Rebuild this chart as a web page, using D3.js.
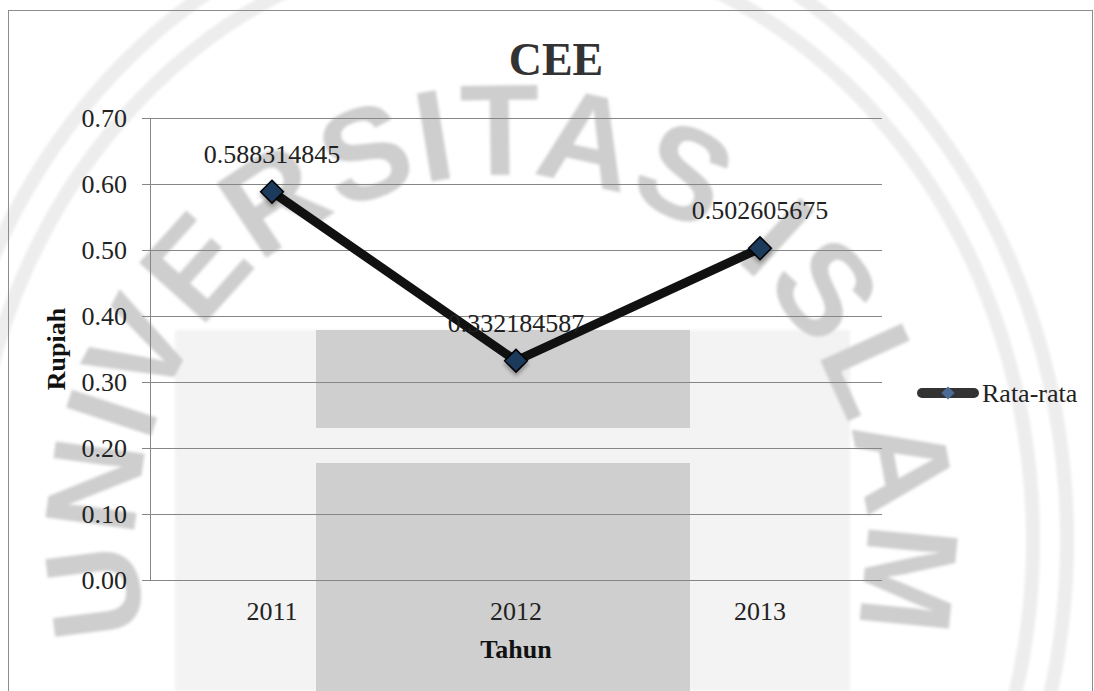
<!DOCTYPE html>
<html>
<head>
<meta charset="utf-8">
<script src="https://cdn.jsdelivr.net/npm/d3@7"></script>
<style>
  body { margin: 0; background: #fff; }
  text { font-family: "Liberation Serif", "Times New Roman", serif; }
</style>
</head>
<body>
<svg id="chart"></svg>
<script>
(function() {

// data
const years = ["2011", "2012", "2013"];
const rataRata = [0.588314845, 0.332184587, 0.502605675];
const seriesName = "Rata-rata";
const yTickValues = [0.0, 0.1, 0.2, 0.3, 0.4, 0.5, 0.6, 0.7];
const watermarkText = "UNIVERSITAS ISLAM";

const width = 1094;
const height = 691;
const plot = {left: 150, right: 882, top: 118, bottom: 580};

const svg = d3.select("#chart")
    .attr("width", width)
    .attr("height", height);

const defs = svg.append("defs");

const blur = defs.append("filter").attr("id", "wm-blur");
blur.append("feGaussianBlur").attr("stdDeviation", 1.4);

const shadow = defs.append("filter").attr("id", "mk-shadow")
    .attr("x", "-50%").attr("y", "-50%").attr("width", "200%").attr("height", "200%");
shadow.append("feDropShadow")
    .attr("dx", 0).attr("dy", 3)
    .attr("stdDeviation", 2)
    .attr("flood-color", "#000")
    .attr("flood-opacity", 0.35);

// ---- faded logo watermark behind the chart ----
const wm = svg.append("g").attr("class", "watermark");
const cx = 501, cy = 540;

wm.append("rect")
    .attr("x", 175).attr("y", 330)
    .attr("width", 675).attr("height", 361)
    .attr("fill", "#f3f3f3")
    .attr("filter", "url(#wm-blur)");

[[532, 600], [566, 640]].forEach(([rx, ry]) => {
    wm.append("ellipse")
        .attr("cx", cx).attr("cy", cy)
        .attr("rx", rx).attr("ry", ry)
        .attr("fill", "none")
        .attr("stroke", "#ededed")
        .attr("stroke-width", 14)
        .attr("filter", "url(#wm-blur)");
});

wm.append("rect")
    .attr("x", 316).attr("y", 330)
    .attr("width", 374).attr("height", 98)
    .attr("fill", "#cfcfcf");
wm.append("rect")
    .attr("x", 316).attr("y", 463)
    .attr("width", 374).attr("height", 240)
    .attr("fill", "#cfcfcf");

const rBase = 365;
const a0 = 194.7 * Math.PI / 180, a1 = -20 * Math.PI / 180;
const p0 = [cx + rBase * Math.cos(a0), cy - rBase * Math.sin(a0)];
const p1 = [cx + rBase * Math.cos(a1), cy - rBase * Math.sin(a1)];
defs.append("path")
    .attr("id", "wm-arc")
    .attr("d", `M${p0[0]},${p0[1]} A${rBase},${rBase} 0 1 1 ${p1[0]},${p1[1]}`);

wm.append("text")
    .style("font-family", "'Liberation Sans', Arial, sans-serif")
    .style("letter-spacing", "1.5px")
    .attr("font-size", 130)
    .attr("font-weight", "bold")
    .attr("fill", "#cecece")
    .attr("filter", "url(#wm-blur)")
    .append("textPath")
    .attr("href", "#wm-arc")
    .text(watermarkText);

// chart frame
svg.append("rect")
    .attr("x", 8.5).attr("y", 10.5)
    .attr("width", 1084).attr("height", 700)
    .attr("fill", "none")
    .attr("stroke", "#8c8c8c");

// ---- scales ----
const x = d3.scaleBand()
    .domain(years)
    .range([plot.left, plot.right]);

const y = d3.scaleLinear()
    .domain([0, 0.7])
    .range([plot.bottom, plot.top]);

// gridlines
svg.append("g")
    .selectAll("line")
    .data(yTickValues)
    .join("line")
    .attr("x1", plot.left - 8)
    .attr("x2", plot.right)
    .attr("y1", d => Math.round(y(d)) + 0.5)
    .attr("y2", d => Math.round(y(d)) + 0.5)
    .attr("stroke", "#868686")
    .attr("stroke-width", 1);

// y axis line
svg.append("line")
    .attr("x1", plot.left + 0.5).attr("x2", plot.left + 0.5)
    .attr("y1", plot.top).attr("y2", plot.bottom)
    .attr("stroke", "#868686");

// y tick labels
svg.append("g")
    .selectAll("text")
    .data(yTickValues)
    .join("text")
    .attr("x", 127)
    .attr("y", d => y(d) + 9)
    .attr("text-anchor", "end")
    .attr("font-size", 26)
    .attr("fill", "#222")
    .text(d3.format(".2f"));

// x tick labels
svg.append("g")
    .selectAll("text")
    .data(years)
    .join("text")
    .attr("x", d => x(d) + x.bandwidth() / 2)
    .attr("y", 620)
    .attr("text-anchor", "middle")
    .attr("font-size", 26)
    .attr("fill", "#222")
    .text(d => d);

// axis titles
svg.append("text")
    .attr("x", 516)
    .attr("y", 658)
    .attr("text-anchor", "middle")
    .attr("font-size", 26)
    .attr("font-weight", "bold")
    .attr("fill", "#111")
    .text("Tahun");

svg.append("text")
    .attr("transform", "translate(65, 349) rotate(-90)")
    .attr("text-anchor", "middle")
    .attr("font-size", 26)
    .attr("font-weight", "bold")
    .attr("fill", "#111")
    .text("Rupiah");

// title
svg.append("text")
    .attr("x", 556)
    .attr("y", 75)
    .attr("text-anchor", "middle")
    .attr("font-size", 46)
    .attr("font-weight", "bold")
    .attr("fill", "#333")
    .text("CEE");

// ---- series ----
const points = years.map((yr, i) => ({year: yr, value: rataRata[i]}));

const line = d3.line()
    .x(d => x(d.year) + x.bandwidth() / 2)
    .y(d => y(d.value));

svg.append("path")
    .datum(points)
    .attr("d", line)
    .attr("fill", "none")
    .attr("stroke", "#111")
    .attr("stroke-width", 9)
    .attr("stroke-linejoin", "round")
    .attr("stroke-linecap", "round");

const diamond = d3.symbol().type(d3.symbolDiamond2);

svg.append("g")
    .selectAll("path")
    .data(points)
    .join("path")
    .attr("transform", d => `translate(${x(d.year) + x.bandwidth() / 2}, ${y(d.value)})`)
    .attr("d", diamond.size(330))
    .attr("fill", "#1f3a5c")
    .attr("stroke", "#000")
    .attr("stroke-width", 1.5)
    .attr("filter", "url(#mk-shadow)");

// data labels
svg.append("g")
    .selectAll("text")
    .data(points)
    .join("text")
    .attr("x", d => x(d.year) + x.bandwidth() / 2)
    .attr("y", d => y(d.value) - 29)
    .attr("text-anchor", "middle")
    .attr("font-size", 26)
    .attr("fill", "#222")
    .text(d => String(d.value));

// ---- legend ----
const legend = svg.append("g").attr("transform", "translate(918, 393)");
legend.append("line")
    .attr("x1", 4).attr("x2", 56)
    .attr("y1", 0).attr("y2", 0)
    .attr("stroke", "#333")
    .attr("stroke-width", 10)
    .attr("stroke-linecap", "round");
legend.append("path")
    .attr("transform", "translate(30, 0)")
    .attr("d", d3.symbol().type(d3.symbolDiamond2).size(110)())
    .attr("fill", "#4a6b94");
legend.append("text")
    .attr("x", 64)
    .attr("y", 9)
    .attr("font-size", 26)
    .attr("fill", "#222")
    .text(seriesName);

})();
</script>
</body>
</html>
